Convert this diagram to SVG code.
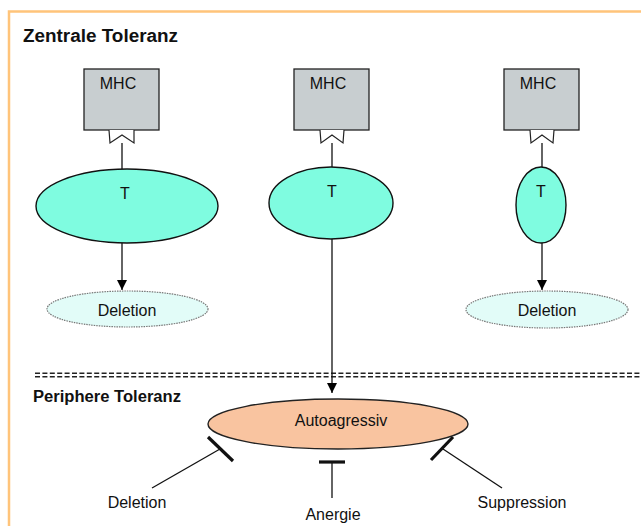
<svg xmlns="http://www.w3.org/2000/svg" width="641" height="526" viewBox="0 0 641 526">
<defs>
<marker id="arr" markerWidth="10" markerHeight="10" refX="10" refY="5" orient="auto" markerUnits="userSpaceOnUse">
<path d="M0,0 L10,5 L0,10 Z" fill="#000"/>
</marker>
<style>
text{font-family:"Liberation Sans",Arial,sans-serif;fill:#111}
.lbl{font-size:16px;text-anchor:middle}
.title{font-weight:bold}
.mhc{fill:#C8CED0;stroke:#222;stroke-width:1.3}
.notch{fill:#fff;stroke:#222;stroke-width:1.2}
.tcell{fill:#7FFCE0;stroke:#111;stroke-width:1.4}
.del{fill:#E2FCF8;stroke:#777;stroke-width:1.2;stroke-dasharray:1.5 1}
.auto{fill:#F9C4A0;stroke:#222;stroke-width:1.4}
.ln{stroke:#111;stroke-width:1.3;fill:none}
.bar{stroke:#111;stroke-width:3.2;fill:none}
.dash{stroke:#222;stroke-width:1.6;stroke-dasharray:5 2.4;fill:none}
</style>
</defs>
<rect width="641" height="526" fill="#fff"/>
<path d="M9,526 V11.5 H641" fill="none" stroke="#FFC47A" stroke-width="2.5"/>
<text class="title" x="23" y="42" font-size="18" textLength="155" lengthAdjust="spacingAndGlyphs">Zentrale Toleranz</text>
<text class="title" x="33" y="402" font-size="16" textLength="148" lengthAdjust="spacingAndGlyphs">Periphere Toleranz</text>
<g id="divider">
<line class="dash" x1="35" y1="373.3" x2="641" y2="373.3"/>
<line class="dash" x1="35" y1="376.7" x2="641" y2="376.7"/>
</g>
<g id="mhc1">
<rect class="mhc" x="84" y="69" width="75" height="61"/>
<text class="lbl" x="118" y="89">MHC</text>
<path class="notch" d="M109,130 L110,143 L122,135 L134,143 L134,130"/>
</g>
<g id="mhc2">
<rect class="mhc" x="294" y="69" width="75" height="61"/>
<text class="lbl" x="328" y="89">MHC</text>
<path class="notch" d="M320,130 L321,143 L332,135 L343,143 L344,130"/>
</g>
<g id="mhc3">
<rect class="mhc" x="504" y="69" width="75" height="61"/>
<text class="lbl" x="538" y="89">MHC</text>
<path class="notch" d="M530,130 L531,143 L542,135 L553,143 L554,130"/>
</g>
<g id="t1">
<ellipse class="tcell" cx="127" cy="206" rx="91" ry="37"/>
<text class="lbl" x="125" y="199">T</text>
</g>
<g id="t2">
<ellipse class="tcell" cx="331" cy="203" rx="62" ry="36"/>
<text class="lbl" x="332" y="197">T</text>
</g>
<g id="t3">
<ellipse class="tcell" cx="541" cy="205" rx="25" ry="38"/>
<text class="lbl" x="541" y="197">T</text>
</g>
<g id="del1">
<ellipse class="del" cx="127.5" cy="309" rx="80.5" ry="18"/>
<text class="lbl" x="127" y="316">Deletion</text>
</g>
<g id="del2">
<ellipse class="del" cx="547" cy="309.5" rx="81" ry="18.5"/>
<text class="lbl" x="547" y="316">Deletion</text>
</g>
<g id="autoagressiv">
<ellipse class="auto" cx="338" cy="424" rx="130" ry="25"/>
<text class="lbl" x="341" y="426">Autoagressiv</text>
</g>
<g id="deletion-peri">
<text class="lbl" x="137" y="508">Deletion</text>
</g>
<g id="anergie">
<text class="lbl" x="333" y="520">Anergie</text>
</g>
<g id="suppression">
<text class="lbl" x="522" y="508">Suppression</text>
</g>
<g id="connectors">
<line class="ln" x1="122" y1="143" x2="122" y2="169"/>
<line class="ln" x1="332" y1="143" x2="332" y2="167"/>
<line class="ln" x1="542" y1="143" x2="542" y2="167"/>
<line class="ln" x1="122" y1="243" x2="122" y2="290" marker-end="url(#arr)"/>
<line class="ln" x1="542" y1="243" x2="542" y2="290" marker-end="url(#arr)"/>
<line class="ln" x1="332" y1="239" x2="332" y2="393" marker-end="url(#arr)"/>
<line class="ln" x1="152" y1="488" x2="220" y2="449"/>
<line class="bar" x1="208" y1="437" x2="233" y2="461"/>
<line class="ln" x1="332" y1="498" x2="332" y2="462"/>
<line class="bar" x1="319" y1="462" x2="345" y2="462"/>
<line class="ln" x1="502" y1="488" x2="443" y2="449"/>
<line class="bar" x1="453" y1="437" x2="431" y2="460"/>
</g>
</svg>
